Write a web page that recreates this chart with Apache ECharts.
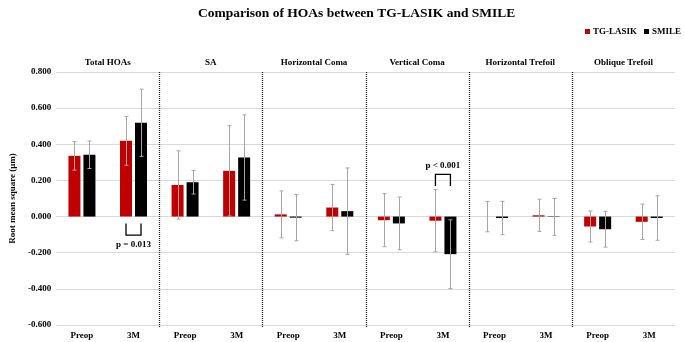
<!DOCTYPE html>
<html>
<head>
<meta charset="utf-8">
<script src="https://cdn.jsdelivr.net/npm/echarts@6/dist/echarts.min.js"></script>
<style>html,body{margin:0;padding:0;background:#fff}#c{width:684px;height:342px}</style>
</head>
<body>
<div id="c"></div>
<script>
// ---- data ----
const panels = ['Total HOAs', 'SA', 'Horizontal Coma', 'Vertical Coma', 'Horizontal Trefoil', 'Oblique Trefoil'];
const timepoints = ['Preop', '3M'];
const lasikMean = [0.336, 0.419, 0.175, 0.253, 0.012, 0.050, -0.020, -0.023, 0.000, 0.007, -0.055, -0.029];
const lasikSD   = [0.079, 0.135, 0.189, 0.250, 0.130, 0.128, 0.147, 0.172, 0.084, 0.089, 0.086, 0.098];
const smileMean = [0.342, 0.519, 0.190, 0.327, -0.006, 0.030, -0.038, -0.208, -0.008, -0.002, -0.070, -0.008];
const smileSD   = [0.076, 0.186, 0.065, 0.236, 0.128, 0.239, 0.146, 0.190, 0.092, 0.102, 0.099, 0.123];
const yTicks = [-0.6, -0.4, -0.2, 0, 0.2, 0.4, 0.6, 0.8];
// significance annotations: category index, bracket level (value), direction, label
const sigCats = [1, 7];
const sigLevels = [-0.038, 0.169];
const sigDirs = [-1, 1];
const sigTexts = ['p = 0.013', 'p < 0.001'];

// ---- build ----
const categories = [];
panels.forEach(() => timepoints.forEach(t => categories.push(t)));
const FONT = "'Liberation Serif', 'Times New Roman', serif";
const RED = '#C00000', BLACK = '#000000';
const BAR_W = 12, GAP = 3;
const OFF = (BAR_W + GAP) / 2;

function errRender(offset) {
  return function (params, api) {
    const c = api.value(0), m = api.value(1), sd = api.value(2);
    const top = api.coord([c, m + sd]);
    const bot = api.coord([c, m - sd]);
    const x = Math.round(top[0] + offset) + 0.5;
    const cap = 2;
    const st = { stroke: '#a6a6a6', lineWidth: 1 };
    return {
      type: 'group',
      children: [
        { type: 'line', shape: { x1: x, y1: top[1], x2: x, y2: bot[1] }, style: st },
        { type: 'line', shape: { x1: x - cap, y1: top[1], x2: x + cap, y2: top[1] }, style: st },
        { type: 'line', shape: { x1: x - cap, y1: bot[1], x2: x + cap, y2: bot[1] }, style: st }
      ]
    };
  };
}

const chart = echarts.init(document.getElementById('c'), null, { renderer: 'canvas' });
chart.setOption({
  animation: false,
  backgroundColor: '#fff',
  textStyle: { fontFamily: FONT },
  title: {
    text: 'Comparison of HOAs between TG-LASIK and SMILE',
    left: 193, top: 2,
    textStyle: { fontFamily: FONT, fontWeight: 'bold', fontSize: 13.5, color: '#000' }
  },
  legend: {
    data: ['TG-LASIK', 'SMILE'],
    right: -2, top: 22,
    icon: 'rect', itemWidth: 5, itemHeight: 5, itemGap: 7,
    itemStyle: { borderWidth: 0 },
    textStyle: { fontFamily: FONT, fontWeight: 'bold', fontSize: 9, color: '#000', padding: [0, 0, 0, -2] }
  },
  grid: { left: 41, right: 9, top: 72, bottom: 17 },
  xAxis: [
    {
      type: 'category', data: categories, position: 'bottom',
      axisLine: { show: false }, axisTick: { show: false },
      axisLabel: { interval: 0, margin: 6, fontFamily: FONT, fontWeight: 'bold', fontSize: 9, color: '#000' }
    },
    {
      type: 'category', data: panels, position: 'top',
      axisLine: { show: false }, axisTick: { show: false }, splitLine: { show: false },
      axisLabel: { interval: 0, margin: 5, fontFamily: FONT, fontWeight: 'bold', fontSize: 9, color: '#000' }
    }
  ],
  yAxis: {
    type: 'value', min: yTicks[0], max: yTicks[yTicks.length - 1], interval: 0.2,
    name: 'Root mean square (μm)', nameLocation: 'middle', nameGap: 30,
    nameTextStyle: { fontFamily: FONT, fontWeight: 'bold', fontSize: 9, color: '#000' },
    axisLine: { show: false }, axisTick: { show: false },
    axisLabel: { formatter: v => v.toFixed(3), margin: 5, fontFamily: FONT, fontWeight: 'bold', fontSize: 9, color: '#000' },
    splitLine: { lineStyle: { color: '#d9d9d9', width: 1 } }
  },
  series: [
    {
      name: 'TG-LASIK', type: 'bar', data: lasikMean, barWidth: BAR_W, barGap: (GAP / BAR_W * 100) + '%',
      itemStyle: { color: RED }
    },
    {
      name: 'SMILE', type: 'bar', data: smileMean, barWidth: BAR_W,
      itemStyle: { color: BLACK }
    },
    {
      type: 'custom', name: 'errL', z: 5, clip: false,
      data: lasikMean.map((m, i) => [i, m, lasikSD[i]]),
      encode: { x: 0, y: 1 },
      renderItem: errRender(-OFF)
    },
    {
      type: 'custom', name: 'errS', z: 5, clip: false,
      data: smileMean.map((m, i) => [i, m, smileSD[i]]),
      encode: { x: 0, y: 1 },
      renderItem: errRender(OFF)
    },
    {
      type: 'custom', name: 'dividers', z: 6, clip: false,
      data: panels.slice(1).map((p, k) => [2 * k + 1, 0]),
      encode: { x: 0, y: 1 },
      renderItem: function (params, api) {
        const b = api.value(0);
        const x = (api.coord([b, 0])[0] + api.coord([b + 1, 0])[0]) / 2;
        const cs = params.coordSys;
        return {
          type: 'line',
          shape: { x1: Math.round(x) + 0.5, y1: cs.y, x2: Math.round(x) + 0.5, y2: cs.y + cs.height + 2 },
          style: { stroke: '#222', lineWidth: 1.3, lineDash: [1, 1] }
        };
      }
    },
    {
      type: 'custom', name: 'sig', z: 7, clip: false,
      data: sigCats.map((c, i) => [c, sigLevels[i], sigDirs[i]]),
      encode: { x: 0, y: 1 },
      renderItem: function (params, api) {
        const i = params.dataIndex;
        const c = api.value(0), lvl = api.value(1), dir = api.value(2);
        const base = api.coord([c, lvl]);
        const far = api.coord([c, lvl + dir * 0.065]);
        const xl = base[0] - OFF, xr = base[0] + OFF;
        const yb = base[1], yf = far[1];
        const st = { stroke: '#000', lineWidth: 1.3, fill: null };
        const ty = dir > 0 ? yf - 9 : yf + 9;
        return {
          type: 'group',
          children: [
            { type: 'polyline', shape: { points: [[xl, yb], [xl, yf], [xr, yf], [xr, yb]] }, style: st },
            { type: 'text', style: { text: sigTexts[i], x: base[0], y: ty, align: 'center', verticalAlign: 'middle',
              font: 'bold 9px ' + FONT, fill: '#000' } }
          ]
        };
      }
    }
  ]
});
</script>
</body>
</html>
